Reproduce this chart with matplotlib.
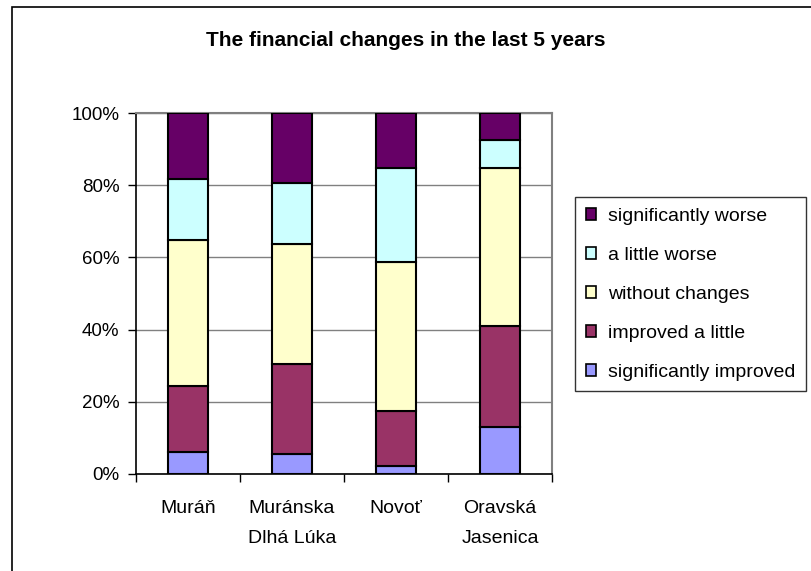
import numpy as np
import matplotlib
matplotlib.use('Agg')
import matplotlib.pyplot as plt
import matplotlib.patches as mpatches

plt.rcParams['font.family'] = ['Liberation Sans', 'DejaVu Sans']

# Data (percent of respondents)
villages = ['Muráň', 'Muránska\nDlhá Lúka', 'Novoť', 'Oravská\nJasenica']
sig_improved = [6.2, 5.5, 2.3, 12.9]
improved_little = [18.2, 25.0, 15.1, 28.1]
no_change = [40.5, 33.2, 41.3, 43.7]
little_worse = [16.8, 17.0, 26.0, 7.9]
sig_worse = [18.3, 19.3, 15.3, 7.4]

series = [
    ('significantly improved', sig_improved, '#9999FF'),
    ('improved a little', improved_little, '#993366'),
    ('without changes', no_change, '#FFFFCC'),
    ('a little worse', little_worse, '#CCFFFF'),
    ('significantly worse', sig_worse, '#660066'),
]

fig = plt.figure(figsize=(8.12, 5.71), dpi=100)
ax = fig.add_axes([136/812, 1 - 474/571, (552 - 136)/812, (474 - 113)/571])

x = np.arange(len(villages))
bottom = np.zeros(len(villages))
handles = []
for name, vals, col in series:
    vals = np.array(vals)
    ax.bar(x, vals, bottom=bottom, width=0.385, color=col,
           edgecolor='black', linewidth=1.5, zorder=3)
    bottom += vals
    handles.append(mpatches.Patch(facecolor=col, edgecolor='black',
                                  linewidth=1.2, label=name))

ax.set_xlim(-0.5, len(villages) - 0.5)
ax.set_ylim(0, 100)
ax.set_yticks(np.arange(0, 101, 20))
ax.set_yticklabels([f'{v}%' for v in range(0, 101, 20)], fontsize=13.5)
ax.yaxis.grid(True, color='#808080', linewidth=1.0, zorder=0)
ax.tick_params(axis='y', length=6, width=1, direction='out', pad=6)

# category labels between boundary ticks
ax.set_xticks(x)
ax.set_xticklabels(villages, fontsize=14, linespacing=1.95, va='top')
ax.tick_params(axis='x', which='major', length=0, pad=19)
ax.set_xticks(np.arange(-0.5, len(villages)), minor=True)
ax.tick_params(axis='x', which='minor', length=6, width=1, direction='out')

for s in ['top', 'right']:
    ax.spines[s].set_color('#808080')
    ax.spines[s].set_linewidth(1.5)
for s in ['left', 'bottom']:
    ax.spines[s].set_color('black')
    ax.spines[s].set_linewidth(1.2)

fig.text(0.5, 1 - 41/571, 'The financial changes in the last 5 years',
         ha='center', va='center', fontsize=15, fontweight='bold')

leg = fig.legend(handles=handles[::-1], loc='upper left',
                 bbox_to_anchor=(575/812, 1 - 197/571), fontsize=14,
                 frameon=True, fancybox=False, edgecolor='black',
                 handlelength=0.55, handleheight=0.55, handletextpad=0.6,
                 labelspacing=1.13, borderpad=0.55, borderaxespad=0)
leg.get_frame().set_linewidth(1.0)

# outer chart border
fig.patches.append(mpatches.Rectangle((12/812, -0.5), 2, 1.5 - 7/571,
                                      transform=fig.transFigure, fill=False,
                                      edgecolor='black', linewidth=1.2))

fig.savefig('out.png', dpi=100)
